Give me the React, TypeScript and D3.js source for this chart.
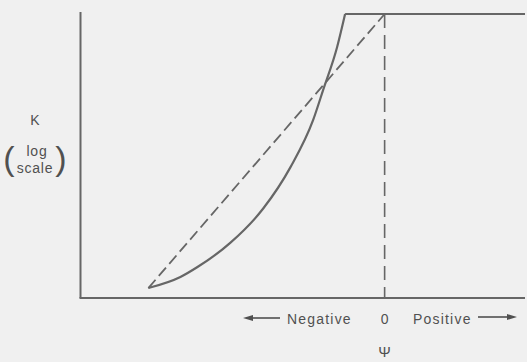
import React from "react";
import * as d3 from "d3";

// Water potential (Ψ) values and log K values (0–100 relative scale)
const solidPsi = [-10.1, -8.73, -8.0, -6.6, -5.19, -4.03, -3.05, -2.63, -2.03, -1.69, 6.0];
const solidLogK = [3.5, 7.4, 10.9, 19.4, 31.5, 46, 62.8, 73.2, 88.4, 100, 100];
const diagPsi = [-10.1, 0];
const diagLogK = [3.5, 100];
const vertPsi = [0, 0];
const vertLogK = [100, 0];
const xTickLabels = ["Negative", "0", "Positive"];

const W = 527;
const H = 362;

export default function App() {
  const x = d3.scaleLinear().domain([-13, 6]).range([80.5, 525]);
  const y = d3.scaleLinear().domain([0, 100]).range([298, 14]);

  const curve = d3
    .line<[number, number]>()
    .x((d) => x(d[0]))
    .y((d) => y(d[1]))
    .curve(d3.curveMonotoneX);
  const straight = d3
    .line<[number, number]>()
    .x((d) => x(d[0]))
    .y((d) => y(d[1]));

  const n = solidPsi.length;
  const curvePts: [number, number][] = solidPsi.slice(0, -1).map((p, i) => [p, solidLogK[i]]);
  const flatPts: [number, number][] = [
    [solidPsi[n - 2], solidLogK[n - 2]],
    [solidPsi[n - 1], solidLogK[n - 1]],
  ];
  const diagPts: [number, number][] = diagPsi.map((p, i) => [p, diagLogK[i]]);
  const vertPts: [number, number][] = vertPsi.map((p, i) => [p, vertLogK[i]]);

  const ink = "#666";
  const txt = "#505050";
  const font = "'Liberation Sans', Arial, sans-serif";
  const x0 = x(0);
  const axisY = y(0);
  const [xMin, xMax] = x.range();

  return (
    <div style={{ position: "fixed", left: 0, top: 0 }}>
      <svg width={W} height={H} style={{ display: "block" }}>
        <rect x={0} y={0} width={W} height={H} fill="#f0f0f0" />
        {/* axes */}
        <line x1={xMin} x2={xMin} y1={y(100) - 2} y2={axisY} stroke={ink} strokeWidth={2} />
        <line x1={xMin - 1} x2={xMax} y1={axisY} y2={axisY} stroke={ink} strokeWidth={2} />
        {/* dashed lines */}
        <path d={straight(diagPts) || ""} fill="none" stroke={ink} strokeWidth={1.8} strokeDasharray="11,5" />
        <path d={straight(vertPts) || ""} fill="none" stroke={ink} strokeWidth={1.6} strokeDasharray="14,7" />
        {/* solid curve */}
        <path d={curve(curvePts) || ""} fill="none" stroke={ink} strokeWidth={2.2} />
        <path d={straight(flatPts) || ""} fill="none" stroke={ink} strokeWidth={2.2} />

        {/* y label */}
        <g fill={txt} fontFamily={font}>
          <text x={35} y={125} fontSize={14} textAnchor="middle">K</text>
          <text x={37} y={156} fontSize={14} textAnchor="middle" letterSpacing={0.8}>log</text>
          <text x={35} y={173} fontSize={14} textAnchor="middle" letterSpacing={0.8}>scale</text>
          <text x={9} y={170} fontSize={34} textAnchor="middle" fontWeight={200}>(</text>
          <text x={61} y={170} fontSize={34} textAnchor="middle" fontWeight={200}>)</text>
        </g>

        {/* x labels */}
        <g fill={txt} fontFamily={font} fontSize={14}>
          <text x={287} y={324} letterSpacing={1.2}>{xTickLabels[0]}</text>
          <text x={x0} y={324} textAnchor="middle">{xTickLabels[1]}</text>
          <text x={413} y={324} letterSpacing={1.2}>{xTickLabels[2]}</text>
          <text x={x0} y={357} textAnchor="middle" fontSize={15}>Ψ</text>
        </g>
        {/* arrows */}
        <g stroke={txt} fill={txt}>
          <line x1={250} x2={280} y1={318} y2={318} strokeWidth={1.6} />
          <path d="M243,318 L253,315 L253,321 Z" stroke="none" />
          <line x1={478} x2={508} y1={317} y2={317} strokeWidth={1.6} />
          <path d="M517,317 L507,314 L507,320 Z" stroke="none" />
        </g>
      </svg>
    </div>
  );
}
